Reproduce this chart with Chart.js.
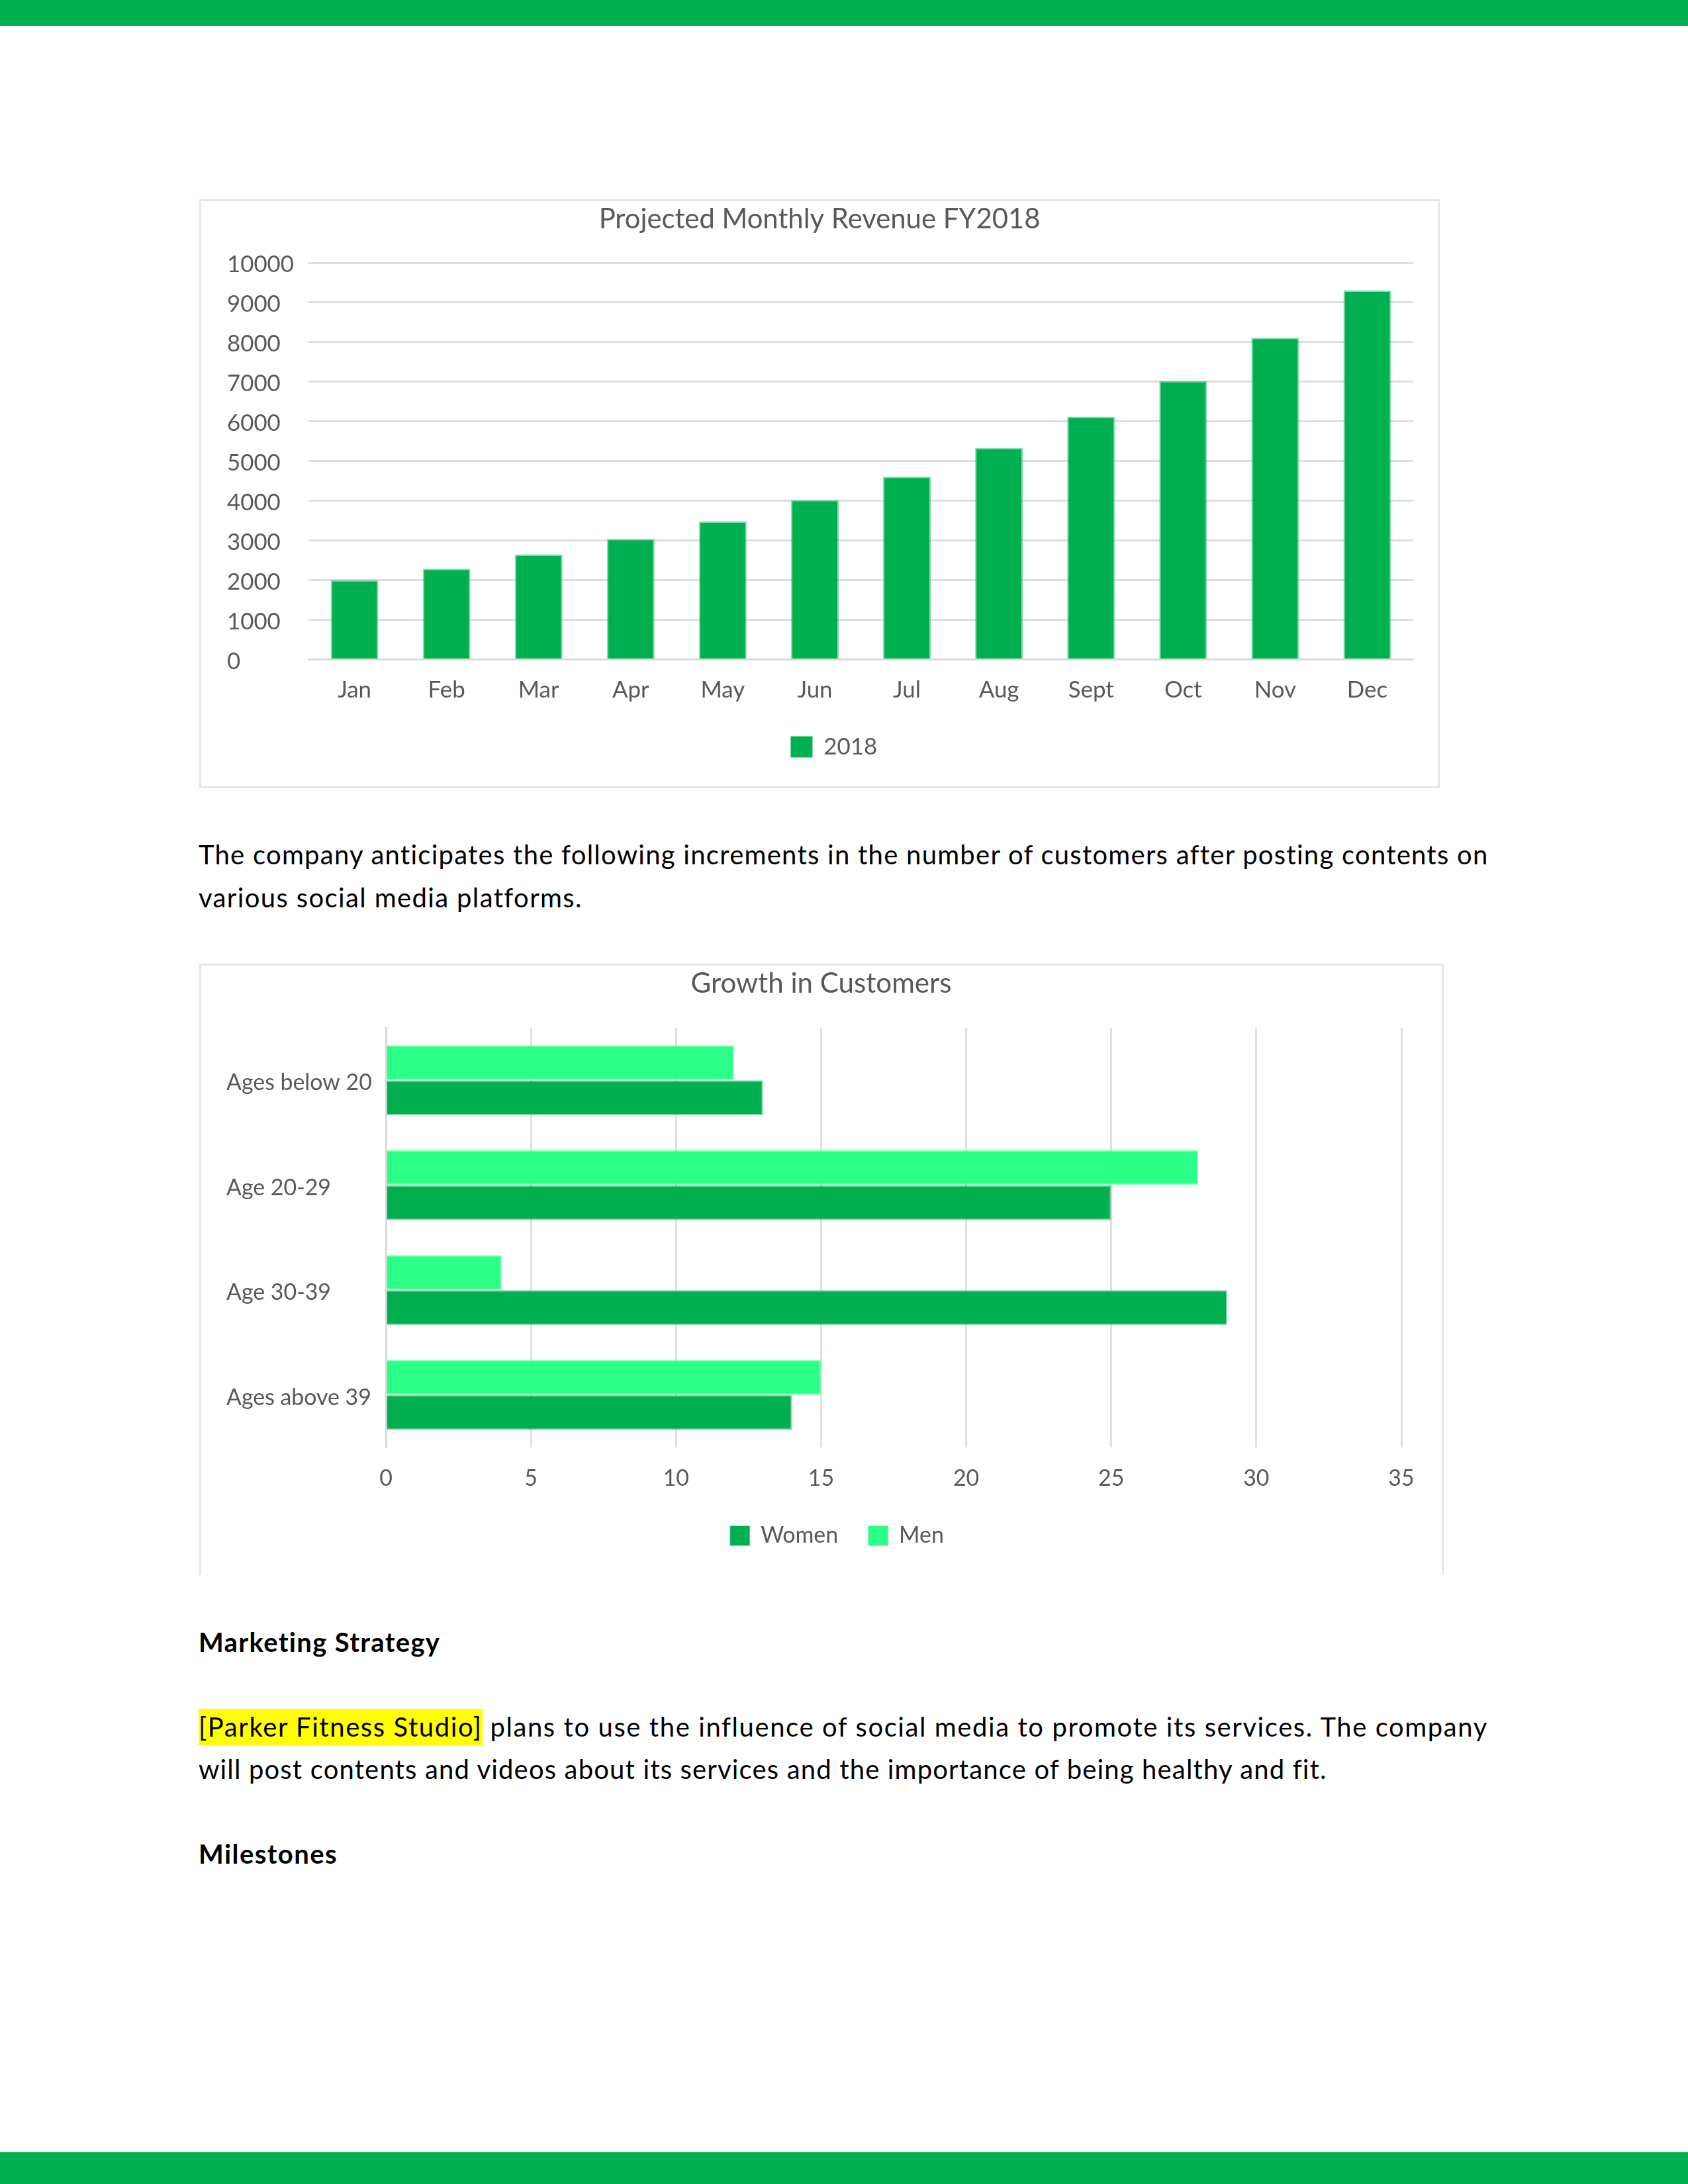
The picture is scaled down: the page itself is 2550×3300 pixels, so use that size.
<!DOCTYPE html>
<html>
<head>
<meta charset="utf-8">
<script src="https://cdn.jsdelivr.net/npm/chart.js@4.4.1/dist/chart.umd.min.js"></script>
<style>
html,body{margin:0;padding:0;background:#fff;}
#page{position:relative;width:2550px;height:3300px;overflow:hidden;background:#fff;font-family:Lato,"Open Sans",sans-serif;}
.band{position:absolute;left:0;width:2550px;background:#00B050;}
.box{position:absolute;box-sizing:border-box;border:3px solid #e6e6e6;}
canvas.chart{position:absolute;}
.line{position:absolute;white-space:nowrap;color:#000;line-height:1.2;}
.hl{background:#ffff00;padding:3px 0 4px 0;}
</style>
</head>
<body>
<div id="page">
  <div class="band" style="top:0;height:39px"></div>
  <div class="band" style="top:3252px;height:48px"></div>
  <div class="box" style="left:301px;top:301px;width:1874px;height:890px"></div>
  <canvas id="revChart" class="chart" width="1874" height="890" style="left:301px;top:301px"></canvas>
  <div class="box" style="left:301px;top:1456px;width:1880px;height:924px;border-bottom:none"></div>
  <canvas id="custChart" class="chart" width="1880" height="924" style="left:301px;top:1456px"></canvas>
</div>
<script>
// ---------- DATA ----------
const revenueTitle = 'Projected Monthly Revenue FY2018';
const months = ['Jan','Feb','Mar','Apr','May','Jun','Jul','Aug','Sept','Oct','Nov','Dec'];
const revenueSeriesName = '2018';
const revenue2018 = [2000,2290,2650,3040,3480,4020,4610,5330,6120,7020,8110,9300];
const revenueTicks = [0,1000,2000,3000,4000,5000,6000,7000,8000,9000,10000];

const growthTitle = 'Growth in Customers';
const ageGroups = ['Ages below 20','Age 20-29','Age 30-39','Ages above 39'];
const seriesNames = ['Women','Men'];
const womenGrowth = [13,25,29,14];
const menGrowth = [12,28,4,15];
const growthTicks = [0,5,10,15,20,25,30,35];

const paragraph1 = [
  'The company anticipates the following increments in the number of customers after posting contents on',
  'various social media platforms.'
];
const heading1 = 'Marketing Strategy';
const companyName = '[Parker Fitness Studio]';
const paragraph2 = [
  ' plans to use the influence of social media to promote its services. The company',
  'will post contents and videos about its services and the importance of being healthy and fit.'
];
const heading2 = 'Milestones';

// ---------- STYLE ----------
const FONT = 'Lato';
const GREEN = '#00B050';
const LIGHT = '#2BFF88';
const TXT = '#595959';
const GRID = '#dedede';
Chart.defaults.font.family = FONT;

const mctx = document.createElement('canvas').getContext('2d');
function fitSize(text, targetW, weight) {
  mctx.font = (weight || 'normal') + ' 100px ' + FONT;
  return 100 * targetW / mctx.measureText(text).width;
}

const shiftPlugin = {
  id: 'shiftBoxes',
  afterLayout(chart, args, opts) {
    const t = chart.titleBlock, l = chart.legend;
    if (t && opts.titleDx) { t.left += opts.titleDx; t.right += opts.titleDx; }
    if (l && opts.legendDx) { l.left += opts.legendDx; l.right += opts.legendDx; }
  }
};

// ---------- CHART 1 ----------
(function(){
  const H = 890;
  const ts = fitSize(revenueTitle, 667);
  const F = fitSize('10000', 101);
  const areaTop = 96, areaBottom = 695.5;
  const titleMid = 32 - 0.03 * ts;
  const tPadTop = titleMid - 0.6 * ts;
  const tPadBot = areaTop - tPadTop - 1.2 * ts;
  const xPad = (742 - areaBottom) - 0.6 * F;
  const legPad = 10;
  const legTop = 827.5 - legPad - F / 2;
  const xH = legTop - areaBottom;
  const legH = F + legPad + 10;
  const padB = H - (legTop + legH);
  const padL = 42;

  new Chart(document.getElementById('revChart'), {
    type: 'bar',
    data: {
      labels: months,
      datasets: [{
        label: revenueSeriesName, data: revenue2018,
        backgroundColor: GREEN, borderColor: 'rgba(0,176,80,0.45)', borderWidth: 2,
        categoryPercentage: 1, barPercentage: 0.518
      }]
    },
    options: {
      responsive: false, animation: false, devicePixelRatio: 1,
      layout: { padding: { left: padL, right: 40, top: 0, bottom: padB } },
      plugins: {
        title: { display: true, text: revenueTitle, color: TXT,
          font: { size: ts, weight: 'normal', family: FONT },
          padding: { top: tPadTop, bottom: tPadBot } },
        legend: { position: 'bottom',
          labels: { boxWidth: 32, boxHeight: 31, color: TXT, font: { size: F, family: FONT }, padding: legPad } },
        tooltip: { enabled: false },
        shiftBoxes: { titleDx: -1, legendDx: 21 }
      },
      scales: {
        x: {
          grid: { display: false, drawTicks: false },
          border: { display: true, color: '#d9d9d9', width: 3 },
          ticks: { color: TXT, font: { size: F }, padding: xPad, maxRotation: 0, autoSkip: false },
          afterFit: s => { s.height = xH; }
        },
        y: {
          min: 0, max: 10000,
          afterBuildTicks: s => { s.ticks = revenueTicks.map(v => ({ value: v })); },
          grid: { color: GRID, lineWidth: 3, drawTicks: false },
          border: { display: false },
          ticks: { color: TXT, font: { size: F }, padding: 22, crossAlign: 'far', labelOffset: 3,
            callback: v => String(v) },
          afterFit: s => { s.width = 165 - padL; }
        }
      }
    },
    plugins: [shiftPlugin]
  });
})();

// ---------- CHART 2 ----------
(function(){
  const H = 924;
  const ts = fitSize(growthTitle, 394);
  const F = fitSize('Ages below 20', 220);
  const areaTop = 97, areaBottom = 731;
  const titleMid = 32 - 0.03 * ts;
  const tPadTop = titleMid - 0.6 * ts;
  const tPadBot = areaTop - tPadTop - 1.2 * ts;
  const xPad = (778.5 - areaBottom) - 0.6 * F;
  const legPad = 46;
  const legTop = 864.5 - legPad - F / 2;
  const xH = legTop - areaBottom;
  const legH = F + legPad + 10;
  const padB = H - (legTop + legH);
  const padL = 41;

  new Chart(document.getElementById('custChart'), {
    type: 'bar',
    data: {
      labels: ageGroups,
      datasets: [
        { label: seriesNames[1], data: menGrowth, backgroundColor: LIGHT,
          borderColor: 'rgba(43,255,136,0.5)', borderWidth: 2 },
        { label: seriesNames[0], data: womenGrowth, backgroundColor: GREEN,
          borderColor: 'rgba(0,176,80,0.45)', borderWidth: 2 }
      ]
    },
    options: {
      indexAxis: 'y',
      responsive: false, animation: false, devicePixelRatio: 1,
      datasets: { bar: { categoryPercentage: 0.669, barPercentage: 1 } },
      layout: { padding: { left: padL, right: 64, top: 0, bottom: padB } },
      plugins: {
        title: { display: true, text: growthTitle, color: TXT,
          font: { size: ts, weight: 'normal', family: FONT },
          padding: { top: tPadTop, bottom: tPadBot } },
        legend: { position: 'bottom', reverse: true,
          labels: { boxWidth: 29, boxHeight: 29, color: TXT, font: { size: F, family: FONT }, padding: legPad } },
        tooltip: { enabled: false },
        shiftBoxes: { titleDx: 11, legendDx: 35 }
      },
      scales: {
        x: {
          min: 0, max: 35,
          afterBuildTicks: s => { s.ticks = growthTicks.map(v => ({ value: v })); },
          grid: { color: '#e0e0e0', lineWidth: 3, drawTicks: false },
          border: { display: false },
          ticks: { color: TXT, font: { size: F }, padding: xPad, maxRotation: 0, callback: v => String(v) },
          afterFit: s => { s.height = xH; }
        },
        y: {
          grid: { display: false, drawTicks: false },
          border: { display: true, color: '#d9d9d9', width: 3 },
          ticks: { color: TXT, font: { size: F }, crossAlign: 'far', padding: 0, labelOffset: 4 },
          afterFit: s => { s.width = 282 - padL; }
        }
      }
    },
    plugins: [shiftPlugin]
  });
})();

// ---------- BODY TEXT ----------
const page = document.getElementById('page');
function placeLine(segments, left, baseline, right, size, weight) {
  const div = document.createElement('div');
  div.className = 'line';
  div.style.left = left + 'px';
  div.style.top = '0px';
  div.style.fontSize = size + 'px';
  div.style.fontWeight = weight;
  const inner = document.createElement('span');
  segments.forEach(seg => {
    const s = document.createElement('span');
    s.textContent = seg.t;
    if (seg.hl) s.className = 'hl';
    inner.appendChild(s);
  });
  div.appendChild(inner);
  const mark = document.createElement('span');
  mark.style.cssText = 'display:inline-block;width:0;height:0;vertical-align:baseline;';
  div.appendChild(mark);
  page.appendChild(div);
  const w = inner.getBoundingClientRect().width;
  const n = segments.map(s => s.t).join('').length;
  div.style.letterSpacing = (((right - left) - w) / n) + 'px';
  div.style.top = (baseline - mark.offsetTop) + 'px';
}
const BODY = 40;
placeLine([{ t: paragraph1[0] }], 300, 1306, 2249, BODY, 400);
placeLine([{ t: paragraph1[1] }], 300, 1370.5, 879, BODY, 400);
placeLine([{ t: heading1 }], 300, 2496, 666, BODY, 700);
placeLine([{ t: companyName, hl: true }, { t: paragraph2[0] }], 300, 2624, 2248, BODY, 400);
placeLine([{ t: paragraph2[1] }], 300, 2688, 2004, BODY, 400);
placeLine([{ t: heading2 }], 300, 2816, 510, BODY, 700);
</script>
</body>
</html>
